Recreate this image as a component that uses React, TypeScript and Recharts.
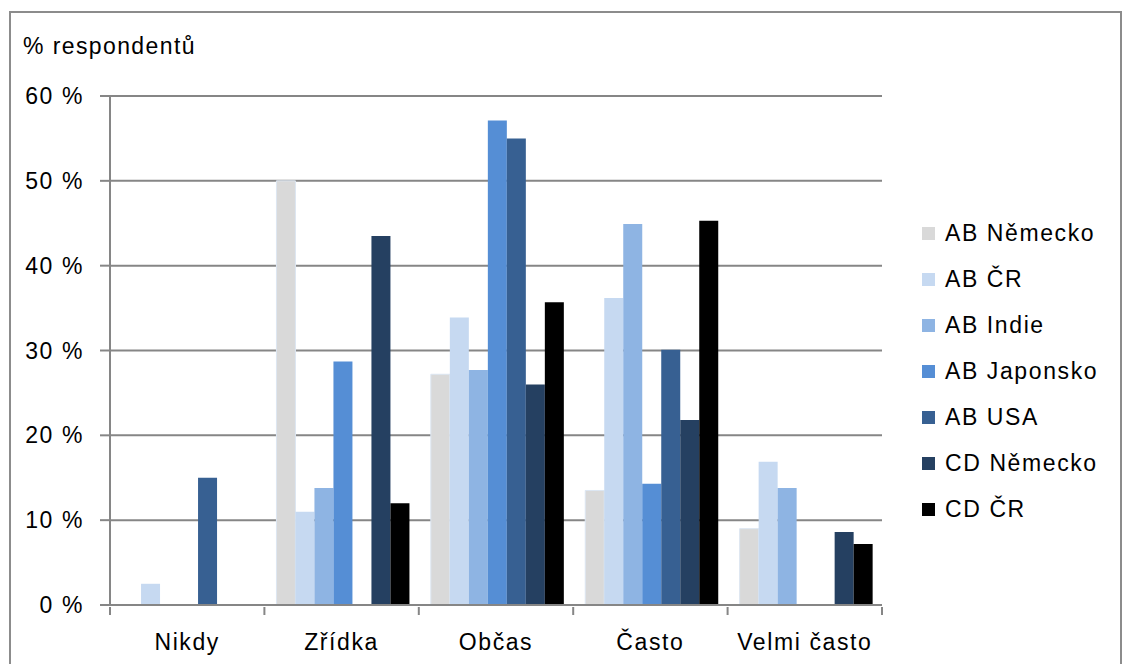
import React from "react";
import { BarChart, Bar, XAxis, YAxis, CartesianGrid, Legend } from "recharts";

const categories = ["Nikdy", "Zřídka", "Občas", "Často", "Velmi často"];
const seriesNames = ["AB Německo", "AB ČR", "AB Indie", "AB Japonsko", "AB USA", "CD Německo", "CD ČR"];
const seriesColors = ["#d9d9d9", "#c6d9f1", "#8eb4e3", "#558ed5", "#376092", "#254061", "#000000"];

const abNemecko = [0, 50, 27.2, 13.5, 9];
const abCR = [2.5, 11, 33.9, 36.2, 16.9];
const abIndie = [0, 13.8, 27.7, 44.9, 13.8];
const abJaponsko = [0, 28.7, 57.1, 14.3, 0];
const abUSA = [15, 0, 55, 30.1, 0];
const cdNemecko = [0, 43.5, 26, 21.8, 8.6];
const cdCR = [0, 12, 35.7, 45.3, 7.2];

const yTicks = [0, 10, 20, 30, 40, 50, 60];

const seriesValues = [abNemecko, abCR, abIndie, abJaponsko, abUSA, cdNemecko, cdCR];
const data = categories.map((c, i) => {
  const row: Record<string, string | number> = { category: c };
  seriesNames.forEach((s, k) => {
    row[s] = seriesValues[k][i];
  });
  return row;
});

const FONT = "'Liberation Sans', Arial, sans-serif";
const FONT_SIZE = 23;
const LETTER_SPACING = 1.6;
const AXIS_GRAY = "#868686";
const CHART_W = 1123;
const CHART_H = 664;
const MARGIN = { top: 96, right: 241, bottom: 0, left: 0 };
const Y_AXIS_W = 110;
const BAND = (CHART_W - MARGIN.right - Y_AXIS_W) / categories.length;

const CategoryTick = (props: any) => {
  const { x, y, payload, index } = props;
  const i = payload?.index ?? index;
  const left = x - BAND / 2;
  return (
    <g>
      <line x1={left} x2={left} y1={y} y2={y + 8} stroke={AXIS_GRAY} strokeWidth={2} />
      {i === categories.length - 1 && (
        <line x1={x + BAND / 2} x2={x + BAND / 2} y1={y} y2={y + 8} stroke={AXIS_GRAY} strokeWidth={2} />
      )}
      <text
        x={x}
        y={y + 43}
        textAnchor="middle"
        fontFamily={FONT}
        fontSize={FONT_SIZE}
        letterSpacing={LETTER_SPACING}
        fill="#000"
      >
        {payload.value}
      </text>
    </g>
  );
};

const ValueTick = (props: any) => {
  const { x, y, payload } = props;
  return (
    <text
      x={x}
      y={y + 8}
      textAnchor="end"
      fontFamily={FONT}
      fontSize={FONT_SIZE}
      letterSpacing={LETTER_SPACING}
      fill="#000"
    >
      {`${payload.value} %`}
    </text>
  );
};

const LegendContent = () => (
  <div style={{ fontFamily: FONT, fontSize: FONT_SIZE, letterSpacing: LETTER_SPACING, color: "#000" }}>
    {seriesNames.map((s, i) => (
      <div key={s} style={{ display: "flex", alignItems: "center", height: 46, whiteSpace: "nowrap" }}>
        <span
          style={{
            display: "inline-block",
            width: 13,
            height: 13,
            background: seriesColors[i],
            marginRight: 10,
          }}
        />
        <span>{s}</span>
      </div>
    ))}
  </div>
);

export default function App() {
  return (
    <div
      style={{
        position: "absolute",
        left: 0,
        top: 0,
        width: CHART_W,
        height: CHART_H,
        overflow: "hidden",
        background: "#fff",
      }}
    >
      <div
        style={{
          position: "absolute",
          left: 9,
          top: 11,
          width: 1109,
          height: 700,
          border: "2px solid #8c8c8c",
        }}
      />
      <div
        style={{
          position: "absolute",
          left: 23,
          top: 33,
          fontFamily: FONT,
          fontSize: FONT_SIZE,
          letterSpacing: LETTER_SPACING - 0.2,
          color: "#000",
          whiteSpace: "nowrap",
        }}
      >
        % respondentů
      </div>
      <div style={{ position: "absolute", left: 0, top: 0 }}>
        <BarChart
          width={CHART_W}
          height={CHART_H}
          data={data}
          margin={MARGIN}
          barCategoryGap="7.8%"
          barGap={0}
        >
          <CartesianGrid vertical={false} stroke={AXIS_GRAY} strokeWidth={2} />
          <YAxis
            width={Y_AXIS_W}
            domain={[0, 60]}
            ticks={yTicks}
            interval={0}
            axisLine={{ stroke: AXIS_GRAY, strokeWidth: 2 }}
            tickLine={{ stroke: AXIS_GRAY, strokeWidth: 2 }}
            tickSize={10}
            tickMargin={16}
            tick={<ValueTick />}
          />
          <XAxis
            dataKey="category"
            height={59}
            interval={0}
            axisLine={{ stroke: AXIS_GRAY, strokeWidth: 2 }}
            tickLine={false}
            tickSize={0}
            tick={<CategoryTick />}
          />
          <Legend
            layout="vertical"
            align="center"
            verticalAlign="middle"
            content={<LegendContent />}
            wrapperStyle={{ left: 922, top: 210, width: 200 }}
          />
          {seriesNames.map((s, i) => (
            <Bar
              key={s}
              dataKey={s}
              fill={seriesColors[i]}
              stroke={i === 0 ? "#dce6f2" : undefined}
              strokeWidth={i === 0 ? 1 : 0}
              isAnimationActive={false}
            />
          ))}
        </BarChart>
      </div>
    </div>
  );
}
